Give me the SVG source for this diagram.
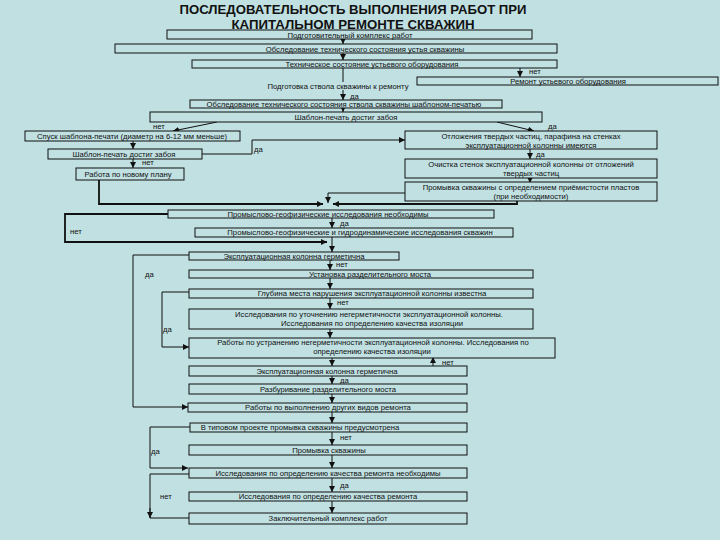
<svg xmlns="http://www.w3.org/2000/svg" width="720" height="540" viewBox="0 0 720 540">
<defs>
<style>
.bg{fill:#C0E0E2}
.b{fill:#C0E0E2;stroke:#111;stroke-width:1}
.t{font-family:"Liberation Sans",Arial,sans-serif;font-size:7.7px;fill:#111;text-anchor:middle}
.l{font-family:"Liberation Sans",Arial,sans-serif;font-size:7.7px;fill:#111}
.h{font-family:"Liberation Sans",Arial,sans-serif;font-size:12.5px;font-weight:bold;fill:#111;text-anchor:middle}
.c{fill:none;stroke:#111;stroke-width:1}
.k{fill:none;stroke:#111;stroke-width:1.8}
</style>
<marker id="a" viewBox="0 0 10 10" refX="10" refY="5" markerWidth="6" markerHeight="6" markerUnits="userSpaceOnUse" orient="auto">
<path d="M0,0 L10,5 L0,10 Z" fill="#111"/>
</marker>
</defs>
<rect class="bg" x="0" y="0" width="720" height="540"/>
<g id="title">
<text class="h" x="353" y="14" textLength="347" lengthAdjust="spacingAndGlyphs">ПОСЛЕДОВАТЕЛЬНОСТЬ ВЫПОЛНЕНИЯ РАБОТ ПРИ</text>
<text class="h" x="353" y="29" textLength="243" lengthAdjust="spacingAndGlyphs">КАПИТАЛЬНОМ РЕМОНТЕ СКВАЖИН</text>
</g>
<g id="connectors">
<line class="c" x1="343" y1="38" x2="343" y2="44" marker-end="url(#a)"/>
<line class="c" x1="343" y1="53" x2="343" y2="60" marker-end="url(#a)"/>
<line class="c" x1="520" y1="68" x2="520" y2="77" marker-end="url(#a)"/>
<line class="c" x1="343" y1="68" x2="343" y2="82"/>
<line class="c" x1="343" y1="90" x2="343" y2="100" marker-end="url(#a)"/>
<line class="c" x1="343" y1="108" x2="343" y2="112" marker-end="url(#a)"/>
<line class="c" x1="217" y1="122" x2="173" y2="131" marker-end="url(#a)"/>
<line class="c" x1="497" y1="122" x2="534" y2="131" marker-end="url(#a)"/>
<line class="c" x1="133" y1="141" x2="133" y2="149" marker-end="url(#a)"/>
<polyline class="c" points="202,154 252,154 252,140 405,140" marker-end="url(#a)"/>
<line class="c" x1="133" y1="159" x2="133" y2="168" marker-end="url(#a)"/>
<line class="c" x1="530" y1="149" x2="530" y2="159" marker-end="url(#a)"/>
<line class="c" x1="530" y1="176" x2="530" y2="183" marker-end="url(#a)"/>
<polyline class="k" points="99,180 99,204 323,204" marker-end="url(#a)"/>
<polyline class="c" points="405,193 328,193 328,203" marker-end="url(#a)"/>
<polyline class="k" points="517,201 517,204 333,204" marker-end="url(#a)"/>
<line class="c" x1="332" y1="218" x2="332" y2="228" marker-end="url(#a)"/>
<polyline class="k" points="168,214 65,214 65,242 327,242" marker-end="url(#a)"/>
<line class="c" x1="332" y1="237" x2="332" y2="252" marker-end="url(#a)"/>
<line class="c" x1="330" y1="260" x2="330" y2="270" marker-end="url(#a)"/>
<polyline class="c" points="189,255 133,255 133,407 188,407" marker-end="url(#a)"/>
<line class="c" x1="330" y1="278" x2="330" y2="289" marker-end="url(#a)"/>
<line class="c" x1="330" y1="298" x2="330" y2="309" marker-end="url(#a)"/>
<polyline class="c" points="189,292 162,292 162,347 189,347" marker-end="url(#a)"/>
<line class="c" x1="330" y1="329" x2="330" y2="338" marker-end="url(#a)"/>
<line class="c" x1="332" y1="358" x2="332" y2="366" marker-end="url(#a)"/>
<line class="c" x1="433" y1="366" x2="433" y2="357" marker-end="url(#a)"/>
<line class="c" x1="332" y1="376" x2="332" y2="384" marker-end="url(#a)"/>
<line class="c" x1="332" y1="394" x2="332" y2="403" marker-end="url(#a)"/>
<line class="c" x1="332" y1="412" x2="332" y2="423" marker-end="url(#a)"/>
<polyline class="c" points="190,427 150,427 150,468 188,468" marker-end="url(#a)"/>
<line class="c" x1="332" y1="432" x2="332" y2="445" marker-end="url(#a)"/>
<line class="c" x1="332" y1="455" x2="332" y2="468" marker-end="url(#a)"/>
<line class="c" x1="332" y1="478" x2="332" y2="492" marker-end="url(#a)"/>
<polyline class="c" points="189,474 150,474 150,518"/>
<line class="c" x1="150" y1="508" x2="150" y2="518" marker-end="url(#a)"/>
<line class="c" x1="150" y1="518" x2="189" y2="518"/>
<line class="c" x1="332" y1="501" x2="332" y2="513" marker-end="url(#a)"/>
</g>
<g id="labels">
<text class="l" x="529" y="74">нет</text>
<text class="l" x="350" y="99">да</text>
<text class="l" x="153" y="129">нет</text>
<text class="l" x="548" y="129">да</text>
<text class="l" x="254" y="152">да</text>
<text class="l" x="142" y="165">нет</text>
<text class="l" x="536" y="157">да</text>
<text class="l" x="340" y="226">да</text>
<text class="l" x="70" y="234">нет</text>
<text class="l" x="336" y="267">нет</text>
<text class="l" x="145" y="277">да</text>
<text class="l" x="337" y="305">нет</text>
<text class="l" x="163" y="332">да</text>
<text class="l" x="442" y="365">нет</text>
<text class="l" x="340" y="383">да</text>
<text class="l" x="151" y="454">да</text>
<text class="l" x="340" y="440">нет</text>
<text class="l" x="340" y="488">да</text>
<text class="l" x="160" y="499">нет</text>
</g>
<g id="n1"><rect class="b" x="167" y="30" width="365" height="9"/><text class="t" x="350" y="37.5">Подготовительный комплекс работ</text></g>
<g id="n2"><rect class="b" x="115" y="44" width="442" height="9"/><text class="t" x="365" y="51.5">Обследование технического состояния устья скважины</text></g>
<g id="n3"><rect class="b" x="192" y="60" width="365" height="8"/><text class="t" x="372" y="66.5">Техническое состояние устьевого оборудования</text></g>
<g id="n4"><rect class="b" x="417" y="77" width="301" height="8"/><text class="t" x="568" y="83.5">Ремонт устьевого оборудования</text></g>
<g id="n5"><text class="t" x="338" y="89">Подготовка ствола скважины к ремонту</text></g>
<g id="n6"><rect class="b" x="190" y="100" width="312" height="8"/><text class="t" x="344" y="106.5">Обследование технического состояния ствола скважины шаблоном-печатью</text></g>
<g id="n7"><rect class="b" x="150" y="112" width="392" height="10"/><text class="t" x="346" y="119.5">Шаблон-печать достиг забоя</text></g>
<g id="n8"><rect class="b" x="25" y="131" width="215" height="10"/><text class="t" x="132" y="139">Спуск шаблона-печати (диаметр на 6-12 мм меньше)</text></g>
<g id="n9"><rect class="b" x="48" y="149" width="154" height="10"/><text class="t" x="124" y="157">Шаблон-печать достиг забоя</text></g>
<g id="n10"><rect class="b" x="76" y="168" width="108" height="12"/><text class="t" x="128" y="177">Работа по новому плану</text></g>
<g id="n11"><rect class="b" x="405" y="131" width="252" height="18"/><text class="t" x="531" y="139">Отложения твердых частиц, парафина на стенках</text><text class="t" x="531" y="148">эксплуатационной колонны имеются</text></g>
<g id="n12"><rect class="b" x="405" y="159" width="252" height="19"/><text class="t" x="531" y="167">Очистка стенок эксплуатационной колонны от отложений</text><text class="t" x="531" y="176">твердых частиц</text></g>
<g id="n13"><rect class="b" x="405" y="182" width="252" height="19"/><text class="t" x="531" y="190">Промывка скважины с определением приёмистости пластов</text><text class="t" x="531" y="199">(при необходимости)</text></g>
<g id="n14"><rect class="b" x="168" y="210" width="326" height="8"/><text class="t" x="328" y="216.5">Промыслово-геофизические исследования необходимы</text></g>
<g id="n15"><rect class="b" x="195" y="228" width="318" height="9"/><text class="t" x="360" y="235">Промыслово-геофизические и гидродинамические исследования скважин</text></g>
<g id="n16"><rect class="b" x="189" y="252" width="210" height="8"/><text class="t" x="294" y="258.5">Эксплуатационная колонна герметична</text></g>
<g id="n17"><rect class="b" x="189" y="270" width="344" height="8"/><text class="t" x="370" y="276.5">Установка разделительного моста</text></g>
<g id="n18"><rect class="b" x="189" y="289" width="344" height="9"/><text class="t" x="372" y="296">Глубина места нарушения эксплуатационной колонны известна</text></g>
<g id="n19"><rect class="b" x="189" y="309" width="344" height="20"/><text class="t" x="369" y="317">Исследования по уточнению негерметичности эксплуатационной колонны.</text><text class="t" x="372" y="326">Исследования по определению качества изоляции</text></g>
<g id="n20"><rect class="b" x="189" y="338" width="366" height="20"/><text class="t" x="373" y="345">Работы по устранению негерметичности эксплуатационной колонны. Исследования по</text><text class="t" x="372" y="354">определению качества изоляции</text></g>
<g id="n21"><rect class="b" x="189" y="366" width="278" height="10"/><text class="t" x="327" y="374">Эксплуатационная колонна герметична</text></g>
<g id="n22"><rect class="b" x="189" y="384" width="278" height="10"/><text class="t" x="328" y="392">Разбуривание разделительного моста</text></g>
<g id="n23"><rect class="b" x="188" y="403" width="279" height="9"/><text class="t" x="328" y="410">Работы по выполнению других видов ремонта</text></g>
<g id="n24"><rect class="b" x="190" y="423" width="277" height="9"/><text class="t" x="300" y="430">В типовом проекте промывка скважины предусмотрена</text></g>
<g id="n25"><rect class="b" x="189" y="445" width="278" height="10"/><text class="t" x="329" y="453">Промывка скважины</text></g>
<g id="n26"><rect class="b" x="189" y="468" width="278" height="10"/><text class="t" x="328" y="476">Исследования по определению качества ремонта необходимы</text></g>
<g id="n27"><rect class="b" x="189" y="492" width="278" height="9"/><text class="t" x="328" y="499">Исследования по определению качества ремонта</text></g>
<g id="n28"><rect class="b" x="189" y="513" width="278" height="11"/><text class="t" x="328" y="521">Заключительный комплекс работ</text></g>
</svg>
